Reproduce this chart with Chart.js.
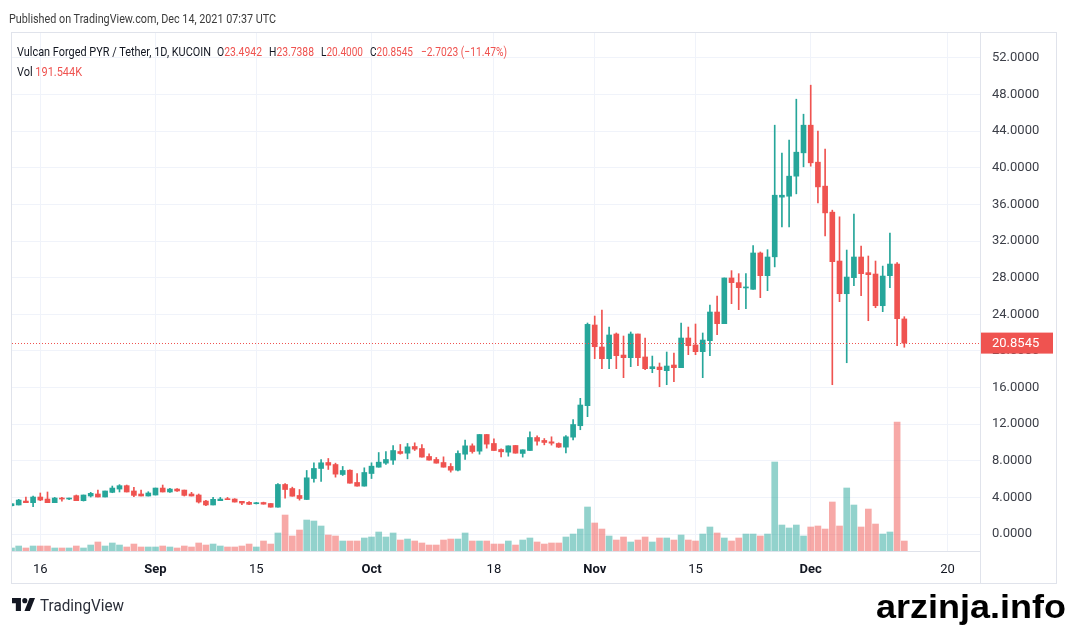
<!DOCTYPE html>
<html>
<head>
<meta charset="utf-8">
<script src="https://cdn.jsdelivr.net/npm/chart.js@4.4.0/dist/chart.umd.min.js"></script>
<style>
  body { margin: 0; background: #fff; }
  #wrap { position: relative; width: 1068px; height: 626px; overflow: hidden; font-family: Roboto, "Liberation Sans", sans-serif; }
  #wrap canvas { position: absolute; left: 0; top: 0; }
  .t { position: absolute; white-space: nowrap; font-size: 13px; line-height: 13px; color: #131722; transform-origin: 0 0; }
  .r { color: #ef5350; }
</style>
</head>
<body>
<div id="wrap">
  <canvas id="chart" width="1068" height="626"></canvas>

  <div class="t" data-w="267" style="left:9px;top:12px;color:#3b3b3b;">Published on TradingView.com, Dec 14, 2021 07:37 UTC</div>

  <!-- legend -->
  <div class="t" data-w="194" style="left:17px;top:45px;">Vulcan Forged PYR / Tether, 1D, KUCOIN</div>
  <div class="t" data-w="45" style="left:217px;top:45px;">O<span class="r">23.4942</span></div>
  <div class="t" data-w="45" style="left:268.5px;top:45px;">H<span class="r">23.7388</span></div>
  <div class="t" data-w="42" style="left:320.5px;top:45px;">L<span class="r">20.4000</span></div>
  <div class="t" data-w="43" style="left:370px;top:45px;">C<span class="r">20.8545</span></div>
  <div class="t r" data-w="86" style="left:420.5px;top:45px;">−2.7023 (−11.47%)</div>
  <div class="t" data-w="65" style="left:17px;top:65px;">Vol <span class="r">191.544K</span></div>

  <svg style="position:absolute;left:12px;top:598px" width="23" height="13" viewBox="0 0 36 20">
    <path d="M14 20H6V8H0V0h14z" fill="#131722"/>
    <circle cx="20" cy="4" r="4" fill="#131722"/>
    <path d="M28 20h-8.5l8-20H36z" fill="#131722"/>
  </svg>
  <div class="t" data-w="84" style="left:40px;top:597px;font-size:16.5px;line-height:17px;color:#2a2e39;">TradingView</div>
  <div class="t" data-w="190" style="left:876px;top:588px;font-family:'Liberation Sans',Arial,sans-serif;font-weight:bold;font-size:34px;line-height:36px;color:#000;">arzinja.info</div>
</div>

<script>
document.addEventListener('DOMContentLoaded', function () {
// ============= data =====================
  // day index: 0 = Aug 16 2021, first candle is Aug 12 (partly cut off)
  const firstDay = -4;

  const opens = [
    3.09, 3.17, 3.60, 3.42, 4.04, 3.82, 3.42, 3.93, 3.82, 4.19,
    3.64, 4.15, 4.37, 4.04, 4.55, 4.91, 5.28, 4.70, 4.37, 4.15,
    4.26, 5.02, 4.59, 4.91, 4.80, 4.37, 4.26, 3.60, 3.17, 3.64,
    3.82, 3.82, 3.57, 3.46, 3.31, 3.44, 3.33, 2.93, 5.41, 4.97,
    4.21, 3.77, 6.06, 7.16, 7.81, 7.59, 6.50, 6.97, 5.63, 5.23,
    6.61, 7.30, 7.74, 8.07, 9.01, 8.83, 9.56, 9.34, 8.47, 8.14,
    7.81, 7.38, 6.97, 8.72, 9.63, 9.05, 10.87, 9.89, 9.23, 8.94,
    9.67, 8.80, 9.12, 10.54, 10.22, 10.07, 9.89, 9.49, 10.58, 11.83,
    14.02, 22.83, 20.43, 19.15, 21.85, 19.55, 19.26, 21.85, 19.34, 18.06,
    18.24, 17.84, 18.46, 18.17, 21.41, 20.65, 19.92, 21.12, 24.25, 22.98,
    27.97, 27.46, 26.88, 26.73, 30.70, 28.22, 30.28, 36.80, 36.90, 39.09,
    41.64, 44.66, 40.62, 38.00, 35.16, 29.82, 26.25, 28.00, 30.26, 28.55,
    28.40, 24.94, 28.22, 29.49, 23.4942
  ];
  const highs = [
    3.31, 3.79, 4.04, 4.15, 4.48, 4.59, 4.00, 4.00, 3.93, 4.26,
    4.26, 4.55, 4.80, 4.70, 5.24, 5.39, 5.35, 5.10, 4.80, 4.62,
    5.02, 5.35, 4.99, 4.95, 4.80, 4.55, 4.37, 3.68, 4.00, 4.00,
    4.00, 3.86, 3.57, 3.53, 3.46, 3.48, 3.33, 5.52, 5.52, 5.12,
    4.86, 6.94, 7.78, 8.14, 8.25, 7.74, 7.38, 7.00, 6.61, 7.23,
    7.78, 8.90, 9.01, 9.67, 9.78, 9.89, 9.96, 9.78, 8.76, 8.36,
    8.43, 7.70, 9.09, 10.25, 9.85, 10.87, 10.87, 10.40, 9.30, 9.63,
    9.67, 9.20, 11.16, 10.73, 10.43, 10.62, 9.96, 10.76, 12.51, 14.82,
    23.05, 23.81, 24.47, 22.61, 21.96, 21.63, 22.07, 21.85, 21.41, 19.44,
    18.68, 19.88, 19.77, 23.05, 22.61, 22.94, 21.96, 25.02, 26.00, 27.97,
    28.77, 28.44, 28.44, 31.50, 30.81, 31.06, 44.66, 41.60, 43.02, 47.50,
    45.86, 49.03, 44.01, 42.04, 35.38, 34.65, 31.02, 34.94, 31.46, 30.37,
    29.82, 29.27, 32.88, 29.64, 23.7388
  ];
  const lows = [
    3.05, 3.17, 3.42, 2.98, 3.64, 3.42, 3.42, 3.60, 3.75, 3.64,
    3.60, 4.04, 4.04, 4.04, 4.51, 4.59, 4.59, 4.08, 4.15, 4.15,
    4.26, 4.59, 4.55, 4.66, 4.15, 4.15, 3.38, 3.09, 3.17, 3.64,
    3.75, 3.49, 3.20, 3.20, 3.28, 3.26, 2.93, 2.93, 3.92, 4.13,
    3.70, 3.77, 5.66, 5.74, 7.05, 6.21, 6.39, 5.55, 5.23, 5.23,
    6.06, 7.30, 7.59, 7.59, 8.72, 8.21, 9.12, 8.40, 8.07, 7.74,
    7.30, 6.76, 6.90, 8.14, 8.83, 8.72, 9.38, 9.12, 8.43, 8.50,
    8.83, 8.40, 9.12, 9.71, 9.74, 9.71, 9.45, 8.87, 10.29, 11.39,
    12.82, 19.15, 18.06, 18.06, 18.06, 17.08, 18.28, 18.39, 17.95, 17.62,
    16.09, 16.31, 16.64, 18.17, 19.59, 19.59, 17.08, 19.48, 21.78, 22.98,
    25.16, 24.51, 24.62, 26.73, 25.82, 26.58, 29.18, 33.55, 33.55, 37.16,
    40.11, 40.18, 36.18, 32.57, 16.31, 25.38, 18.71, 27.13, 26.03, 23.30,
    24.72, 24.29, 26.91, 20.57, 20.40
  ];
  const closes = [
    3.31, 3.71, 3.42, 4.04, 3.71, 3.42, 3.93, 3.82, 3.86, 3.64,
    4.26, 4.44, 4.04, 4.70, 5.02, 5.28, 4.59, 4.22, 4.15, 4.48,
    5.02, 4.59, 4.91, 4.70, 4.22, 4.15, 3.49, 3.17, 3.79, 3.82,
    3.75, 3.49, 3.38, 3.24, 3.38, 3.26, 2.93, 5.41, 4.86, 4.13,
    3.88, 6.14, 7.16, 7.78, 7.52, 6.54, 6.94, 5.55, 5.23, 6.72,
    7.41, 7.85, 8.14, 9.12, 8.80, 9.52, 9.27, 8.40, 8.07, 7.74,
    7.30, 6.97, 8.80, 9.63, 9.01, 10.87, 9.82, 9.12, 8.98, 9.63,
    8.83, 9.20, 10.54, 10.14, 10.00, 9.92, 9.49, 10.62, 11.96, 14.09,
    22.90, 20.46, 19.15, 21.74, 19.48, 19.26, 21.85, 19.26, 18.06, 18.28,
    17.95, 18.35, 18.17, 21.41, 20.57, 19.92, 21.19, 24.25, 22.98, 27.97,
    27.46, 26.91, 26.95, 30.70, 28.22, 30.26, 37.01, 37.01, 39.09, 41.71,
    44.66, 40.55, 37.92, 35.08, 29.75, 26.25, 28.07, 30.26, 28.44, 28.33,
    24.94, 28.18, 29.49, 23.52, 20.8545
  ];
  // volume in thousands (K)
  const volumes = [
    58, 96, 58, 96, 96, 96, 58, 58, 58, 96,
    58, 115, 173, 96, 154, 115, 77, 134, 77, 77,
    77, 96, 77, 58, 96, 77, 154, 115, 134, 96,
    77, 77, 96, 134, 77, 192, 134, 346, 691, 288,
    403, 595, 576, 480, 307, 288, 192, 192, 192, 250,
    269, 365, 269, 346, 211, 230, 192, 154, 115, 115,
    211, 230, 230, 346, 192, 192, 192, 134, 134, 192,
    115, 211, 250, 173, 134, 154, 154, 269, 326, 422,
    845, 538, 422, 288, 211, 269, 173, 211, 269, 173,
    250, 250, 211, 307, 211, 192, 326, 461, 346, 250,
    192, 250, 326, 326, 288, 326, 1709, 499, 442, 499,
    288, 461, 480, 422, 941, 480, 1210, 883, 461, 806,
    518, 326, 365, 2477, 191.544
  ];

  const tickDays = [0, 16, 30, 46, 63, 77, 91, 107, 126];
  const tickLabels = ['16', 'Sep', '15', 'Oct', '18', 'Nov', '15', 'Dec', '20'];
  const monthLabels = ['Sep', 'Oct', 'Nov', 'Dec'];
  const priceTicks = [0, 4, 8, 12, 16, 20, 24, 28, 32, 36, 40, 44, 48, 52];
// ============= end of data ==============

  const GREEN = '#26a69a', RED = '#ef5350';
  const GREEN_V = 'rgba(38,166,154,0.5)', RED_V = 'rgba(239,83,80,0.5)';
  const GRID = '#f0f3fa', FRAME = '#e0e3eb';

  const xs = opens.map((o, i) => i + firstDay);
  const up = closes.map((c, i) => c >= opens[i]);
  const lastClose = closes[closes.length - 1];

  // squeeze the html texts to the widths of the original narrow font
  function fitTexts() {
    document.querySelectorAll('[data-w]').forEach(el => {
      el.style.transform = 'none';
      const w = el.getBoundingClientRect().width;
      if (w > 0) el.style.transform = 'scaleX(' + (el.dataset.w / w) + ')';
    });
  }
  fitTexts();
  if (document.fonts) document.fonts.ready.then(fitTexts);

  Chart.defaults.font.family = 'Roboto, "Liberation Sans", sans-serif';

// ============= extra drawing: last price line, frame, price tag =====
  const overlay = {
    id: 'overlay',
    afterDatasetsDraw(chart) {
      const ctx = chart.ctx, a = chart.chartArea;
      const y = Math.round(chart.scales.y.getPixelForValue(lastClose)) + 0.5;
      ctx.save();
      ctx.strokeStyle = RED;
      ctx.lineWidth = 1;
      ctx.setLineDash([1, 2]);
      ctx.beginPath();
      ctx.moveTo(a.left, y);
      ctx.lineTo(a.right, y);
      ctx.stroke();
      ctx.restore();
    },
    afterDraw(chart) {
      const ctx = chart.ctx, a = chart.chartArea;
      const ys = chart.scales.y;
      ctx.save();
      ctx.strokeStyle = FRAME;
      ctx.lineWidth = 1;
      ctx.strokeRect(11.5, 32.5, 1045, 551);
      ctx.beginPath();
      ctx.moveTo(a.right - 0.5, 32.5);
      ctx.lineTo(a.right - 0.5, 583.5);
      ctx.moveTo(11.5, a.bottom - 0.5);
      ctx.lineTo(a.right - 0.5, a.bottom - 0.5);
      ctx.stroke();

      // price tag on the axis
      const py = ys.getPixelForValue(lastClose);
      ctx.fillStyle = RED;
      ctx.fillRect(a.right, py - 10.5, 72, 21);
      ctx.fillStyle = '#fff';
      ctx.font = '13px Roboto, "Liberation Sans", sans-serif';
      ctx.textBaseline = 'middle';
      ctx.textAlign = 'left';
      ctx.fillText(lastClose.toFixed(4), a.right + 11, py + 0.5);
      ctx.restore();
    }
  };

// ============ CHART =================
  const ctx = document.querySelector('#chart').getContext('2d');
  const chart = new Chart(ctx, {
    type: 'bar',
    data: {
      datasets: [{
        label: 'Body',
        data: xs.map((x, i) => ({ x: x, y: [opens[i], closes[i]] })),
        backgroundColor: up.map(u => u ? GREEN : RED),
        barThickness: 5,
        minBarLength: 1,
        grouped: false,
        yAxisID: 'y',
        order: 0
      }, {
        label: 'Wick',
        data: xs.map((x, i) => ({ x: x, y: [lows[i], highs[i]] })),
        backgroundColor: up.map(u => u ? GREEN : RED),
        barThickness: 1,
        grouped: false,
        yAxisID: 'y',
        order: 1
      }, {
        label: 'Vol',
        data: xs.map((x, i) => ({ x: x, y: volumes[i] })),
        backgroundColor: up.map(u => u ? GREEN_V : RED_V),
        barThickness: 6,
        grouped: false,
        yAxisID: 'yv',
        order: 2
      }]
    },
    options: {
      responsive: false,
      animation: false,
      events: [],
      layout: { padding: { left: 12, top: 32, right: 11, bottom: 43 } },
      plugins: { legend: { display: false }, tooltip: { enabled: false } },
      scales: {
        x: {
          type: 'linear',
          offset: false,
          min: -3.93,
          max: 130.65,
          afterBuildTicks: s => { s.ticks = tickDays.map(v => ({ value: v })); },
          afterFit: s => { s.height = 31; },
          grid: { color: GRID, drawTicks: false, offset: false },
          border: { display: false },
          ticks: {
            autoSkip: false,
            maxRotation: 0,
            padding: 10,
            color: '#131722',
            callback: v => tickLabels[tickDays.indexOf(v)],
            font: c => ({ size: 13, weight: monthLabels.includes(tickLabels[c.index]) ? 'bold' : 'normal' })
          }
        },
        y: {
          position: 'right',
          min: -1.966,
          max: 54.84,
          afterBuildTicks: s => { s.ticks = priceTicks.map(v => ({ value: v })); },
          afterFit: s => { s.width = 76; },
          grid: { color: GRID, drawTicks: false },
          border: { display: false },
          ticks: {
            padding: 11,
            color: '#3c3f48',
            font: { size: 13 },
            callback: v => Number(v).toFixed(4)
          }
        },
        yv: {
          display: false,
          min: -19,
          max: 9965
        }
      }
    },
    plugins: [overlay]
  });
// ============= end of CHART ==============
});
</script>
</body>
</html>
